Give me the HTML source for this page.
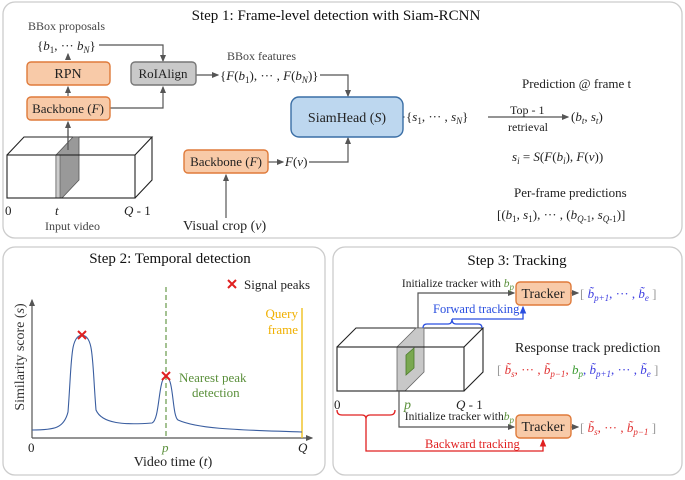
<!DOCTYPE html>
<html><head><meta charset="utf-8"><style>
body{margin:0;background:#fff}
svg{display:block;font-family:"Liberation Serif",serif}
.s{font-size:9px;baseline-shift:-3px}
.i{font-style:italic}
</style></head><body>
<svg width="685" height="480" viewBox="0 0 685 480">
<defs>
<marker id="a" markerWidth="6" markerHeight="6" refX="5" refY="3" orient="auto"><path d="M0,0.5 L6,3 L0,5.5z" fill="#555"/></marker>
<marker id="ab" markerWidth="6" markerHeight="6" refX="5" refY="3" orient="auto"><path d="M0,0.5 L6,3 L0,5.5z" fill="#2a4fe0"/></marker>
<marker id="ar" markerWidth="6" markerHeight="6" refX="5" refY="3" orient="auto"><path d="M0,0.5 L6,3 L0,5.5z" fill="#e02020"/></marker>
</defs>
<g fill="none" stroke="#ccc" stroke-width="1.3">
<rect x="3" y="2" width="679" height="236" rx="12"/>
<rect x="3" y="247" width="322" height="228" rx="12"/>
<rect x="333" y="247" width="349" height="228" rx="12"/>
</g>
<g font-size="15" fill="#111" text-anchor="middle">
<text x="336" y="20">Step 1: Frame-level detection with Siam-RCNN</text>
<text x="170" y="263">Step 2: Temporal detection</text>
<text x="517" y="265">Step 3: Tracking</text>
</g>
<!-- Step1 -->
<g font-size="12" fill="#444">
<text x="28" y="30">BBox proposals</text>
<text x="227" y="60">BBox features</text>
</g>
<g font-size="13" fill="#222">
<text x="37" y="50">{<tspan class="i">b</tspan><tspan class="s">1</tspan>, ··· <tspan class="i">b</tspan><tspan class="s i">N</tspan>}</text>
<text x="220" y="80">{<tspan class="i">F</tspan>(<tspan class="i">b</tspan><tspan class="s">1</tspan>), ··· , <tspan class="i">F</tspan>(<tspan class="i">b</tspan><tspan class="s i">N</tspan>)}</text>
<text x="285" y="166"><tspan class="i">F</tspan>(<tspan class="i">v</tspan>)</text>
<text x="406" y="121">{<tspan class="i">s</tspan><tspan class="s">1</tspan>, ··· , <tspan class="i">s</tspan><tspan class="s i">N</tspan>}</text>
<text x="571" y="121">(<tspan class="i">b</tspan><tspan class="s i">t</tspan>, <tspan class="i">s</tspan><tspan class="s i">t</tspan>)</text>
<text x="510" y="114" font-size="12">Top - 1</text>
<text x="508" y="131" font-size="12">retrieval</text>
<text x="522" y="88">Prediction @ frame t</text>
<text x="512" y="161"><tspan class="i">s</tspan><tspan class="s i">i</tspan> = <tspan class="i">S</tspan>(<tspan class="i">F</tspan>(<tspan class="i">b</tspan><tspan class="s i">i</tspan>), <tspan class="i">F</tspan>(<tspan class="i">v</tspan>))</text>
<text x="514" y="197">Per-frame predictions</text>
<text x="497" y="219">[(<tspan class="i">b</tspan><tspan class="s">1</tspan>, <tspan class="i">s</tspan><tspan class="s">1</tspan>), ··· , (<tspan class="i">b</tspan><tspan class="s"><tspan class="i">Q</tspan>-1</tspan>, <tspan class="i">s</tspan><tspan class="s"><tspan class="i">Q</tspan>-1</tspan>)]</text>
<text x="183" y="230" font-size="14">Visual crop (<tspan class="i">v</tspan>)</text>
<text x="5" y="215">0</text>
<text x="55" y="215" class="i">t</text>
<text x="124" y="215"><tspan class="i">Q</tspan> - 1</text>
<text x="45" y="230" font-size="12" fill="#444">Input video</text>
</g>
<g stroke="#555" stroke-width="1.2" fill="none">
<path d="M99,45 H163 V61" marker-end="url(#a)"/>
<path d="M68,58 V54" marker-end="url(#a)"/>
<path d="M68,96 V87" marker-end="url(#a)"/>
<path d="M110,108 H163 V87" marker-end="url(#a)"/>
<path d="M68,150 V122" marker-end="url(#a)"/>
<path d="M196,75 H218" marker-end="url(#a)"/>
<path d="M320,75 H348 V96" marker-end="url(#a)"/>
<path d="M268,162 H283" marker-end="url(#a)"/>
<path d="M309,162 H348 V138" marker-end="url(#a)"/>
<path d="M226,218 V175" marker-end="url(#a)"/>
<path d="M403,117 H404" marker-end="url(#a)"/>
<path d="M488,117 H568" marker-end="url(#a)"/>
</g>
<g stroke-width="1.4">
<rect x="27" y="62" width="83" height="23" rx="4" fill="#f8caa8" stroke="#df7a3a"/>
<rect x="27" y="97" width="83" height="23" rx="4" fill="#f8caa8" stroke="#df7a3a"/>
<rect x="131" y="62" width="65" height="23" rx="4" fill="#c9c9c9" stroke="#777"/>
<rect x="184" y="150" width="84" height="23" rx="4" fill="#f8caa8" stroke="#df7a3a"/>
<rect x="291" y="97" width="112" height="40" rx="8" fill="#bdd7ef" stroke="#3a6ea5"/>
</g>
<g font-size="13" fill="#222" text-anchor="middle">
<text x="68" y="78" font-size="14">RPN</text>
<text x="68" y="113">Backbone (<tspan class="i">F</tspan>)</text>
<text x="163" y="78">RoIAlign</text>
<text x="226" y="166">Backbone (<tspan class="i">F</tspan>)</text>
<text x="347" y="122" font-size="14">SiamHead (<tspan class="i">S</tspan>)</text>
</g>
<!-- cube 1 -->
<g stroke="#222" stroke-width="1.1" fill="none">
<path d="M7,155 L24,137 H152 L135,155"/>
<path d="M152,137 V180 L135,198"/>
</g>
<path d="M56,155 L73,137 H79 V180 L62,198 H56z" fill="#999" stroke="#555" stroke-width="0.8"/>
<path d="M56,155 H60 V198 H56z" fill="#ccc" stroke="#555" stroke-width="0.6"/>
<rect x="7" y="155" width="128" height="43" fill="none" stroke="#222" stroke-width="1.1"/>
<path d="M68,150 V130" stroke="#555" stroke-width="1.2"/>
<!-- Step 2 -->
<g stroke="#555" stroke-width="1.2" fill="none">
<path d="M32,438 V300" marker-end="url(#a)"/>
<path d="M32,438 H312" marker-end="url(#a)"/>
</g>
<path d="M166,287 V438" stroke="#5a8f3a" stroke-width="1.1" stroke-dasharray="5,3"/>
<path d="M302,308 V438" stroke="#f0c020" stroke-width="1.4"/>
<path d="M32,430 C55,430 64,428 68,412 C72,360 70,336 82,335 C94,336 92,360 96,410 C102,424 125,425 152,423 C160,420 158,378 166,376 C174,378 172,416 178,420 C200,430 250,430 302,432" fill="none" stroke="#3a5ea0" stroke-width="1.1"/>
<g stroke="#e02020" stroke-width="2">
<path d="M78,331 l8,8 M86,331 l-8,8"/>
<path d="M162,372 l8,8 M170,372 l-8,8"/>
<path d="M228,280 l8,8 M236,280 l-8,8"/>
</g>
<g font-size="13">
<text x="244" y="289" fill="#222">Signal peaks</text>
<text x="298" y="318" fill="#f0b000" text-anchor="end">Query</text>
<text x="298" y="334" fill="#f0b000" text-anchor="end">frame</text>
<text x="179" y="382" fill="#5a8f3a">Nearest peak</text>
<text x="192" y="397" fill="#5a8f3a">detection</text>
<text x="28" y="452" fill="#222">0</text>
<text x="162" y="452" fill="#5a8f3a" class="i">p</text>
<text x="298" y="452" fill="#222" class="i">Q</text>
<text x="173" y="466" fill="#222" text-anchor="middle" font-size="14">Video time (<tspan class="i">t</tspan>)</text>
<text transform="translate(24,357) rotate(-90)" text-anchor="middle" fill="#333" font-size="14">Similarity score (<tspan class="i">s</tspan>)</text>
</g>
<!-- Step 3 -->
<g stroke="#222" stroke-width="1.1" fill="none">
<path d="M337,347 L356,328 H483 L464,347"/>
<path d="M483,328 V372 L464,391"/>
</g>
<path d="M397,347 L416,328 H424 V372 L405,391 H397z" fill="#c8c8c8" stroke="#666" stroke-width="0.8"/>
<path d="M406,355 L414,348 V368 L406,375z" fill="#7aa850" stroke="#4a7a2a" stroke-width="0.8"/>
<rect x="337" y="347" width="127" height="44" fill="none" stroke="#222" stroke-width="1.1"/>
<g stroke="#555" stroke-width="1.2" fill="none">
<path d="M418,328 V293 H514" marker-end="url(#a)"/>
<path d="M399,391 V427 H514" marker-end="url(#a)"/>
<path d="M571,293 H578" marker-end="url(#a)"/>
<path d="M571,427 H578" marker-end="url(#a)"/>
</g>
<path d="M423,328 q0,-4 4,-4 h21 q4,0 4,-5 q0,5 4,5 h22 q4,0 4,4" fill="none" stroke="#2a4fe0" stroke-width="1.3"/>
<path d="M452,319 H523 V307" fill="none" stroke="#2a4fe0" stroke-width="1.3" marker-end="url(#ab)"/>
<path d="M337,410 q0,5 5,5 h20 q4,0 4,4 q0,-4 4,-4 h20 q5,0 5,-5" fill="none" stroke="#e02020" stroke-width="1.3"/>
<path d="M366,419 V451 H543 V440" fill="none" stroke="#e02020" stroke-width="1.3" marker-end="url(#ar)"/>
<g stroke-width="1.4" fill="#f8caa8" stroke="#df7a3a">
<rect x="516" y="282" width="55" height="23" rx="4"/>
<rect x="516" y="415" width="55" height="23" rx="4"/>
</g>
<g font-size="14" fill="#222" text-anchor="middle">
<text x="543" y="298">Tracker</text>
<text x="543" y="431">Tracker</text>
</g>
<g font-size="13">
<text x="514" y="287" fill="#222" font-size="11.5" text-anchor="end">Initialize tracker with <tspan fill="#5a8f3a" class="i">b</tspan><tspan fill="#5a8f3a" class="s i">p</tspan></text>
<text x="514" y="420" fill="#222" font-size="11.5" text-anchor="end">Initialize tracker with<tspan fill="#5a8f3a" class="i">b</tspan><tspan fill="#5a8f3a" class="s i">p</tspan></text>
<text x="433" y="313" fill="#2a4fe0" font-size="12.5">Forward tracking</text>
<text x="425" y="448" fill="#e02020" font-size="12.5">Backward tracking</text>
<text x="515" y="352" fill="#222" font-size="14">Response track prediction</text>
<text x="580" y="298" fill="#999">[ <tspan fill="#3a3ae0" class="i">b̃</tspan><tspan fill="#3a3ae0" class="s i">p+1</tspan><tspan fill="#3a3ae0">, ··· , </tspan><tspan fill="#3a3ae0" class="i">b̃</tspan><tspan fill="#3a3ae0" class="s i">e</tspan> ]</text>
<text x="580" y="432" fill="#999">[ <tspan fill="#e03030" class="i">b̃</tspan><tspan fill="#e03030" class="s i">s</tspan><tspan fill="#e03030">, ··· , </tspan><tspan fill="#e03030" class="i">b̃</tspan><tspan fill="#e03030" class="s i">p−1</tspan> ]</text>
<text x="497" y="374" fill="#999">[ <tspan fill="#e03030" class="i">b̃</tspan><tspan fill="#e03030" class="s i">s</tspan><tspan fill="#e03030">, ··· , </tspan><tspan fill="#e03030" class="i">b̃</tspan><tspan fill="#e03030" class="s i">p−1</tspan><tspan fill="#e03030">, </tspan><tspan fill="#3a9a30" class="i">b</tspan><tspan fill="#3a9a30" class="s i">p</tspan><tspan fill="#3a3ae0">, </tspan><tspan fill="#3a3ae0" class="i">b̃</tspan><tspan fill="#3a3ae0" class="s i">p+1</tspan><tspan fill="#3a3ae0">, ··· , </tspan><tspan fill="#3a3ae0" class="i">b̃</tspan><tspan fill="#3a3ae0" class="s i">e</tspan> ]</text>
<text x="334" y="409" fill="#222">0</text>
<text x="404" y="409" fill="#5a8f3a" class="i" font-size="14">p</text>
<text x="456" y="409" fill="#222"><tspan class="i">Q</tspan> - 1</text>
</g>
</svg>
</body></html>
